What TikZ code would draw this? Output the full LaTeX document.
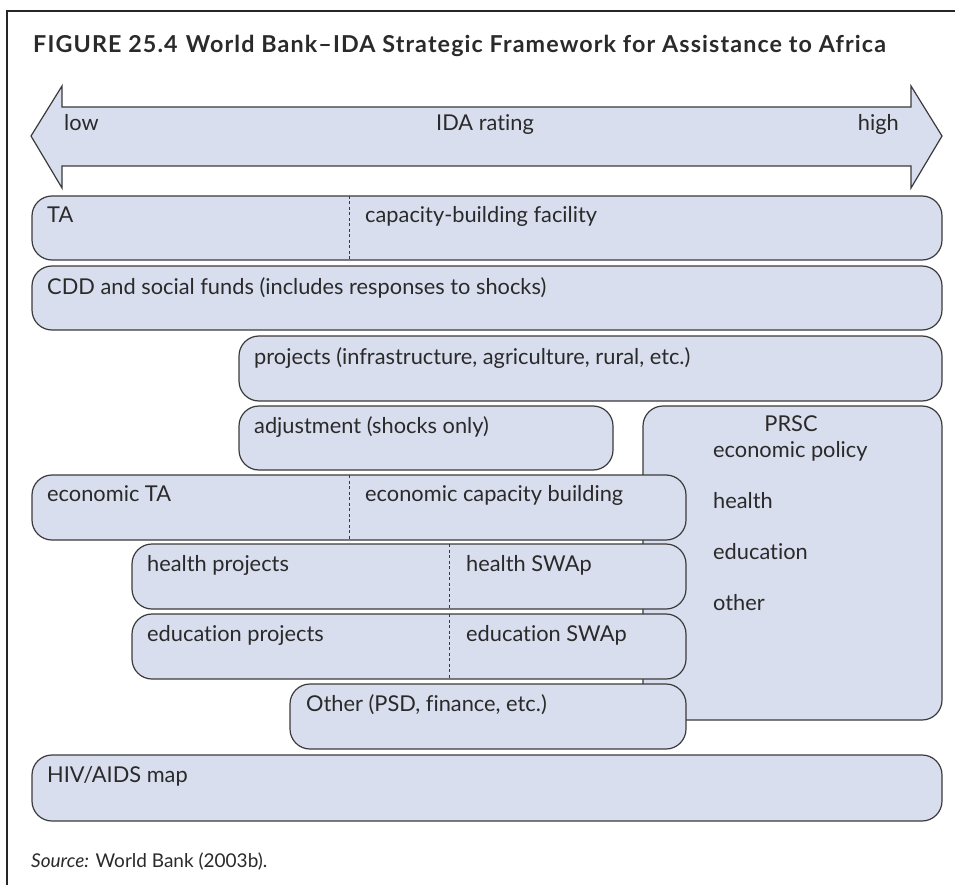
\documentclass[tikz,border=0pt]{standalone}
\usepackage{fontspec}
\setmainfont{Lato}[Ligatures={TeX,NoCommon,NoContextual}]
\definecolor{boxfill}{HTML}{D9DEEE}
\definecolor{boxline}{HTML}{3A3A3A}
\definecolor{ink}{HTML}{2A2A2A}
\begin{document}
\begin{tikzpicture}[x=1pt,y=-1pt,
  rowbox/.style={draw=boxline, fill=boxfill, line width=1.2pt, rounded corners=20pt,
    anchor=north west, inner sep=0pt, outer sep=0pt},
  divider/.style={draw=boxline, line width=1pt, dash pattern=on 3pt off 2.5pt},
  lbl/.style={anchor=base west, inner sep=0pt, text=ink, font=\fontsize{21.8}{26}\selectfont},
  clbl/.style={anchor=base, inner sep=0pt, text=ink, font=\fontsize{21.8}{26}\selectfont},
  frameline/.style={draw=black!85, line width=2pt}
]
\useasboundingbox (0,0) rectangle (955,885);
% frame
\coordinate (ftl) at (7,11);
\coordinate (ftr) at (955,11);
\coordinate (fbl) at (7,885);
\draw[frameline] (ftr) -- (ftl) -- (fbl);
% title
\node[anchor=base west, inner sep=0pt, text=ink, font=\bfseries\fontsize{23.3}{27}\selectfont\addfontfeatures{LetterSpace=4.8}] (title) at (33,53)
  {FIGURE 25.4\hspace{0.35em}World Bank--IDA Strategic Framework for Assistance to Africa};
% double arrow
\draw[draw=boxline, fill=boxfill, line width=1.2pt, line join=miter]
  (31,136) -- (62,86) -- (62,107) -- (911,107) -- (911,86) -- (942,136)
  -- (911,188) -- (911,166) -- (62,166) -- (62,188) -- cycle;
\node[lbl] (low) at (64,131) {low};
\node[clbl] (ida) at (485,131) {IDA rating};
\node[anchor=base east, inner sep=0pt, text=ink, font=\fontsize{21.8}{26}\selectfont] (high) at (899,131) {high};
% divider x positions
\coordinate (dA) at (349,0);
\coordinate (dB) at (449,0);
% rows
\node[rowbox, minimum width=910pt, minimum height=64pt] (ta) at (32,196) {};
\draw[divider] (dA |- ta.north) -- (dA |- ta.south);
\node[lbl] (tat) at (47,223) {TA};
\node[lbl] (cbf) at (365,223) {capacity-building facility};

\node[rowbox, minimum width=910pt, minimum height=64pt] (cdd) at (32,266) {};
\node[lbl] (cddt) at (47,294) {CDD and social funds (includes responses to shocks)};

\node[rowbox, minimum width=703pt, minimum height=65pt] (proj) at (239,336) {};
\node[lbl] (projt) at (254,364) {projects (infrastructure, agriculture, rural, etc.)};

\node[rowbox, minimum width=374pt, minimum height=64pt] (adj) at (239,406) {};
\node[lbl] (adjt) at (254,433) {adjustment (shocks only)};

\node[rowbox, minimum width=299pt, minimum height=314pt] (prsc) at (643,406) {};
\node[clbl] (prsct) at (791,431) {PRSC};
\node[lbl] (prscep) at (713,457) {economic policy};
\node[lbl] (prsch) at (713,508) {health};
\node[lbl] (prsce) at (713,559) {education};
\node[lbl] (prsco) at (713,610) {other};

\node[rowbox, minimum width=654pt, minimum height=65pt] (eco) at (32,475) {};
\draw[divider] (dA |- eco.north) -- (dA |- eco.south);
\node[lbl] (ecot) at (47,501) {economic TA};
\node[lbl] (ecoc) at (365,501) {economic capacity building};

\node[rowbox, minimum width=554pt, minimum height=65pt] (hea) at (132,544) {};
\draw[divider] (dB |- hea.north) -- (dB |- hea.south);
\node[lbl] (heap) at (147,571) {health projects};
\node[lbl] (heas) at (466,571) {health SWAp};

\node[rowbox, minimum width=554pt, minimum height=65pt] (edu) at (132,614) {};
\draw[divider] (dB |- edu.north) -- (dB |- edu.south);
\node[lbl] (edup) at (147,641) {education projects};
\node[lbl] (edus) at (466,641) {education SWAp};

\node[rowbox, minimum width=396pt, minimum height=65pt] (oth) at (290,684) {};
\node[lbl] (otht) at (306,711) {Other (PSD, finance, etc.)};

\node[rowbox, minimum width=910pt, minimum height=66pt] (hiv) at (32,755) {};
\node[lbl] (hivt) at (47,782) {HIV/AIDS map};

% source
\node[anchor=base west, inner sep=0pt, text=ink, font=\fontsize{19}{23}\selectfont] (src) at (31,867)
  {\textit{Source:} World Bank (2003b).};
\end{tikzpicture}
\end{document}
